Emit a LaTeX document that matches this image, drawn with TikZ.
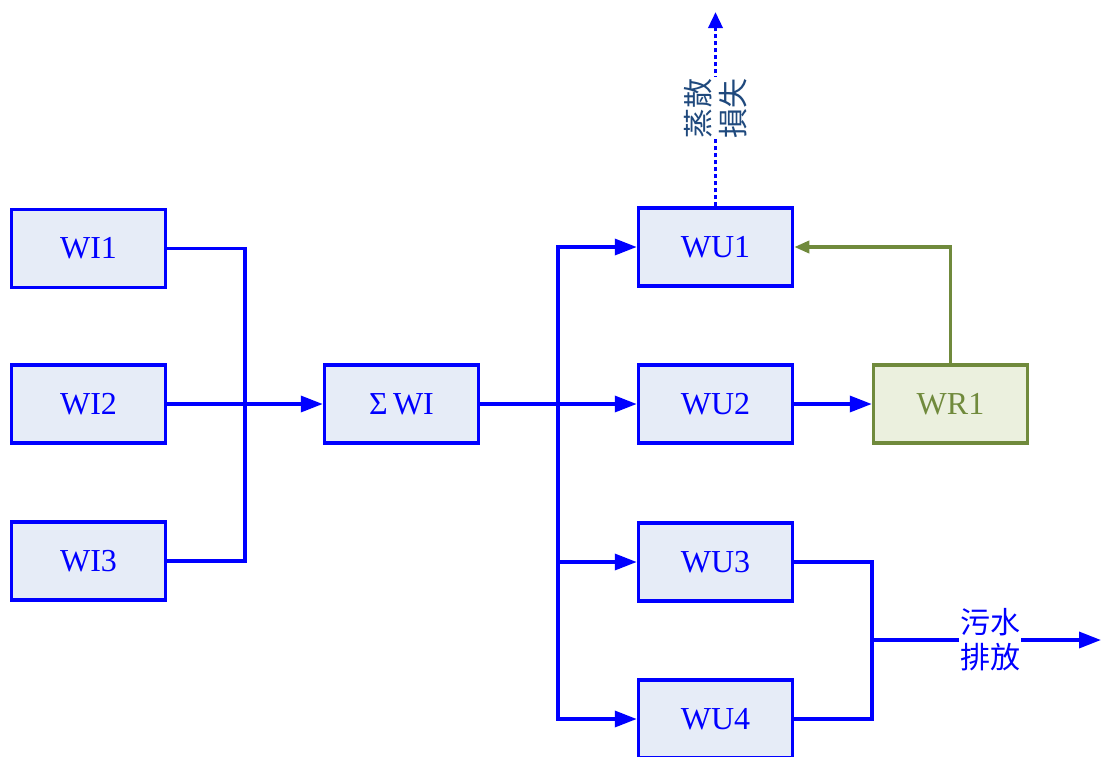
\documentclass[tikz,border=0pt]{standalone}
\usepackage{fontspec}
\setmainfont{Liberation Serif}
\newfontfamily\cjk{Noto Sans CJK TC}
\usetikzlibrary{arrows.meta}
\definecolor{bl}{RGB}{0,0,255}
\definecolor{boxfill}{RGB}{230,236,247}
\definecolor{gr}{RGB}{112,138,60}
\definecolor{grfill}{RGB}{235,240,222}
\definecolor{dkblue}{RGB}{31,73,125}
\tikzset{
  blbox/.style={draw=bl, fill=boxfill, line width=3.5pt, minimum width=154pt, minimum height=78pt, inner sep=0pt, text=bl, font=\fontsize{32}{36}\selectfont},
  grbox/.style={draw=gr, fill=grfill, line width=3.5pt, minimum width=154pt, minimum height=78pt, inner sep=0pt, text=gr, font=\fontsize{32}{36}\selectfont},
  bline/.style={draw=bl, line width=3.5pt},
  barrow/.style={bline, -{Triangle[length=22pt,width=16pt]}},
  gline/.style={draw=gr, line width=3.5pt, -{Triangle[length=15pt,width=12pt]}},
  dotline/.style={draw=bl, line width=3.5pt, dash pattern=on 4pt off 3pt, -{Triangle[length=16pt,width=14pt]}},
  lbl/.style={fill=white, align=center, inner sep=1pt, font=\cjk\fontsize{30}{35}\selectfont}
}
\begin{document}
\begin{tikzpicture}[x=1pt,y=-1pt]
\useasboundingbox (0,0) rectangle (1101,756);
% nodes
\node[blbox] (WI1) at (88.5,248.5) {WI1};
\node[blbox] (WI2) at (88.5,404) {WI2};
\node[blbox] (WI3) at (88.5,561) {WI3};
\node[blbox] (SWI) at (401.5,404) {Σ\,WI};
\node[blbox] (WU1) at (715.5,247) {WU1};
\node[blbox] (WU2) at (715.5,404) {WU2};
\node[blbox] (WU3) at (715.5,562) {WU3};
\node[blbox] (WU4) at (715.5,719) {WU4};
\node[grbox] (WR1) at (950.5,404) {WR1};
% coordinates
\coordinate (j1) at (245,404);
\coordinate (j2) at (558,404);
\coordinate (j3) at (872,640);
\coordinate (out) at (1101,640);
\coordinate (top) at (715.5,12);
% left collectors
\draw[bline] (WI1.east) -| (j1) |- (WI3.east);
\draw[barrow] (WI2.east) -- (SWI.west);
% distribution
\draw[barrow] (SWI.east) -- (WU2.west);
\draw[barrow] (j2) |- (WU1.west);
\draw[barrow] (j2) |- (WU3.west);
\draw[barrow] (j2) |- (WU4.west);
\draw[barrow] (WU2.east) -- (WR1.west);
% recycle
\draw[gline] (WR1.north) |- (WU1.east);
% discharge
\draw[bline] (WU3.east) -| (j3) |- (WU4.east);
\draw[barrow] (j3) -- (out);
\node[lbl, text=bl] (dis) at (990,640) {污水\\排放};
% evaporation
\draw[dotline] (WU1.north) -- (top);
\node[lbl, text=dkblue, rotate=90] (evap) at (715.5,108) {蒸散\\損失};
\end{tikzpicture}
\end{document}
